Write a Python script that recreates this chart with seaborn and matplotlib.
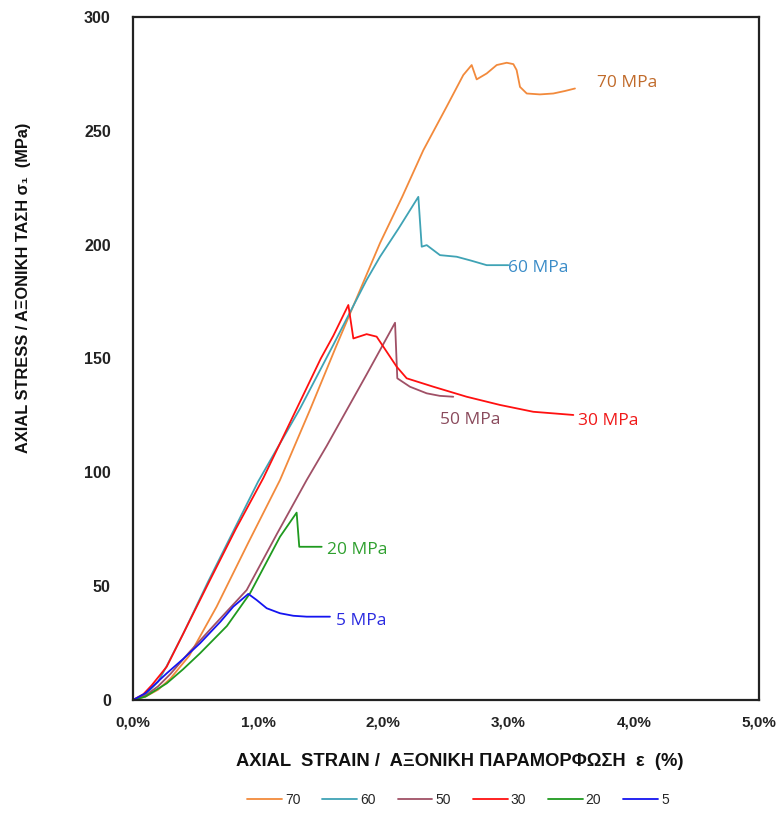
import numpy as np
import pandas as pd
import matplotlib
matplotlib.use("Agg")
import matplotlib.pyplot as plt
from matplotlib.ticker import MultipleLocator, FuncFormatter
import seaborn as sns

# ---- data (strain in %, stress in MPa) ----
series_names = ["70", "60", "50", "30", "20", "5"]

strain_70 = [0, 0.10, 0.20, 0.30, 0.45, 0.668, 0.92, 1.174, 1.414, 1.62, 1.84, 1.973, 2.15, 2.319, 2.505, 2.638, 2.705, 2.745, 2.825, 2.905, 2.985, 3.038, 3.064, 3.091, 3.145, 3.25, 3.357, 3.45, 3.53]
stress_70 = [0, 1.5, 4.5, 9.5, 19.5, 41.0, 69.0, 96.6, 127.5, 155.0, 183.5, 200.7, 221.0, 241.5, 260.6, 274.5, 278.9, 272.6, 275.2, 278.9, 279.9, 279.3, 276.7, 269.3, 266.4, 266.0, 266.4, 267.5, 268.6]

strain_60 = [0, 0.10, 0.20, 0.27, 0.40, 0.60, 0.80, 1.00, 1.334, 1.60, 1.866, 1.973, 2.12, 2.279, 2.306, 2.346, 2.452, 2.585, 2.70, 2.825, 2.998]
stress_60 = [0, 2.5, 8.0, 15.0, 29.0, 52.0, 74.0, 96.0, 128.0, 156.0, 184.5, 194.7, 207.0, 221.0, 199.1, 199.8, 195.4, 194.7, 193.0, 191.0, 191.0]

strain_50 = [0, 0.10, 0.20, 0.30, 0.45, 0.65, 0.908, 1.15, 1.387, 1.547, 1.866, 2.093, 2.111, 2.212, 2.346, 2.45, 2.558]
stress_50 = [0, 2.0, 6.0, 11.5, 21.0, 33.0, 48.3, 73.0, 96.6, 111.6, 143.0, 165.7, 141.3, 137.6, 134.7, 133.6, 133.2]

strain_30 = [0, 0.082, 0.15, 0.269, 0.40, 0.615, 0.82, 1.041, 1.334, 1.50, 1.60, 1.720, 1.760, 1.866, 1.946, 2.026, 2.106, 2.186, 2.399, 2.665, 2.931, 3.197, 3.517]
stress_30 = [0, 2.5, 6.5, 14.6, 29.0, 52.7, 75.0, 97.5, 131.0, 150.0, 160.0, 173.5, 158.8, 160.7, 159.6, 153.0, 146.4, 141.3, 137.6, 133.2, 129.6, 126.6, 125.2]

strain_20 = [0, 0.10, 0.269, 0.40, 0.535, 0.75, 0.934, 1.174, 1.307, 1.328, 1.507]
stress_20 = [0, 1.5, 7.3, 13.5, 20.5, 32.5, 46.8, 71.7, 82.3, 67.3, 67.3]

strain_5 = [0, 0.10, 0.269, 0.40, 0.535, 0.70, 0.801, 0.921, 0.988, 1.068, 1.174, 1.28, 1.387, 1.573]
stress_5 = [0, 3.0, 11.7, 18.0, 24.9, 34.5, 41.0, 46.6, 43.9, 40.3, 38.1, 37.0, 36.6, 36.6]

curve_labels = ["70 MPa", "60 MPa", "50 MPa", "30 MPa", "20 MPa", "5 MPa"]

strains = [strain_70, strain_60, strain_50, strain_30, strain_20, strain_5]
stresses = [stress_70, stress_60, stress_50, stress_30, stress_20, stress_5]

frames = []
for name, sx, sy in zip(series_names, strains, stresses):
    frames.append(pd.DataFrame({"strain": sx, "stress": sy, "series": name}))
df = pd.concat(frames, ignore_index=True)

line_colors = {"70": "#F28A3C", "60": "#3FA3B5", "50": "#A05066",
               "30": "#FF1010", "20": "#1F9A1F", "5": "#1414F0"}
label_colors = {"70": "#C06A2A", "60": "#3A8CC8", "50": "#8A4A5C",
                "30": "#F01818", "20": "#2FA02F", "5": "#2A2AE0"}

sns.set_style("white")
plt.rcParams['font.family'] = ['Liberation Sans', 'DejaVu Sans']

fig = plt.figure(figsize=(7.84, 8.14), dpi=100)
ax = fig.add_axes([133/784, 1 - 700/814, 626/784, 683/814])

sns.lineplot(data=df, x="strain", y="stress", hue="series", hue_order=series_names,
             palette=line_colors, sort=False, estimator=None, units="series",
             linewidth=1.3, ax=ax, legend=True)

ax.set_xlim(0, 5)
ax.set_ylim(0, 300)
ax.xaxis.set_major_locator(MultipleLocator(1))
ax.yaxis.set_major_locator(MultipleLocator(50))
ax.yaxis.set_minor_locator(MultipleLocator(25))
ax.xaxis.set_major_formatter(FuncFormatter(lambda v, p: f"{v:.1f}%".replace(".", ",")))
ax.yaxis.set_major_formatter(FuncFormatter(lambda v, p: f"{int(v)}"))

for s in ax.spines.values():
    s.set_visible(True)
    s.set_color("#222222")
    s.set_linewidth(1.6)

ax.tick_params(axis="x", which="major", direction="in", length=7, width=1.2,
               colors="#222222", labelsize=11, pad=11)
ax.tick_params(axis="y", which="major", direction="out", length=4, width=1.0,
               colors="#222222", labelsize=11.5, pad=12)
ax.tick_params(axis="y", which="minor", direction="out", length=4, width=0.8,
               colors="#cccccc")
ax.tick_params(axis="y", which="major", color="#cccccc")
for lab in ax.get_xticklabels() + ax.get_yticklabels():
    lab.set_fontweight("bold")
    lab.set_color("#222222")

ax.set_xlabel("AXIAL  STRAIN /  ΑΞΟΝΙΚΗ ΠΑΡΑΜΟΡΦΩΣΗ  ε  (%)", fontsize=13.2,
              fontweight="bold", color="#111111")
ax.xaxis.set_label_coords((460 - 133) / 626, (700 - 762) / 683)
ax.xaxis.label.set_va("center")
ax.set_ylabel("AXIAL STRESS / ΑΞΟΝΙΚΗ ΤΑΣΗ σ₁  (MPa)", fontsize=11.8,
              fontweight="bold", color="#111111")
ax.yaxis.set_label_coords((23 - 133) / 626, (700 - 288) / 683)
ax.yaxis.label.set_va("center")

# curve labels
label_pos = {"70": (3.706, 271), "60": (2.995, 189.7), "50": (2.452, 123),
             "30": (3.554, 122.5), "20": (1.55, 66), "5": (1.62, 34.7)}
for name, txt in zip(series_names, curve_labels):
    x, y = label_pos[name]
    ax.text(x, y, txt, color=label_colors[name], fontsize=12.5,
            ha="left", va="center", family=["Open Sans", "DejaVu Sans"])

handles, labels = ax.get_legend_handles_labels()
ax.legend(handles, labels, loc="center", bbox_to_anchor=(458 / 784, 1 - 800 / 814),
          bbox_transform=fig.transFigure, ncol=6, frameon=False, fontsize=10,
          handlelength=2.5, handletextpad=0.2, columnspacing=1.6)

fig.savefig("out.png", dpi=100)
